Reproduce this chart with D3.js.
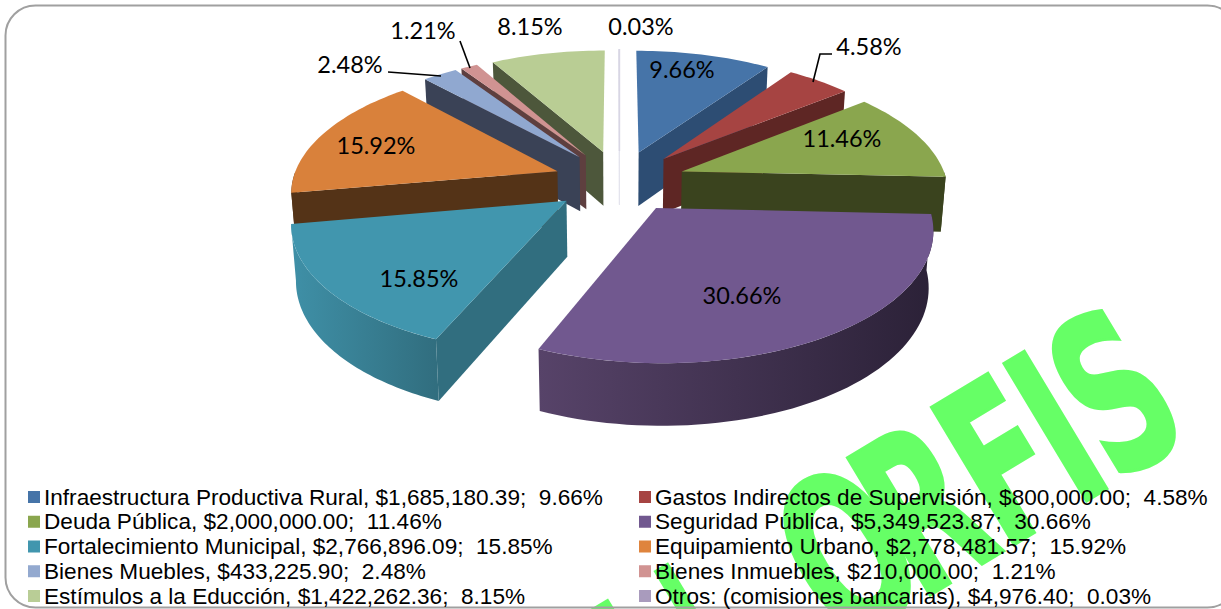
<!DOCTYPE html>
<html><head><meta charset="utf-8">
<script src="https://cdn.jsdelivr.net/npm/d3@7/dist/d3.min.js"></script>
<style>html,body{margin:0;padding:0;background:#fff;overflow:hidden}svg{display:block}text{white-space:pre}</style>
</head><body><svg id="c" width="1221" height="609"></svg>
<script>
const categories = ["Infraestructura Productiva Rural","Gastos Indirectos de Supervisión","Deuda Pública","Seguridad Pública","Fortalecimiento Municipal","Equipamiento Urbano","Bienes Muebles","Bienes Inmuebles","Estímulos a la Educción","Otros: (comisiones bancarias)"];
const amounts = [1685180.39,800000,2000000,5349523.87,2766896.09,2778481.57,433225.90,210000,1422262.36,4976.40];
const amountLabels = ["$1,685,180.39","$800,000.00","$2,000,000.00","$5,349,523.87","$2,766,896.09","$2,778,481.57","$433,225.90","$210,000.00","$1,422,262.36","$4,976.40"];
const percentLabels = ["9.66%","4.58%","11.46%","30.66%","15.85%","15.92%","2.48%","1.21%","8.15%","0.03%"];
const topColors = ["#4674a8","#a64442","#8aa64e","#71588f","#4196ae","#d9813b","#90a8d0","#d09392","#b9cd94","#d8d6e4"];
const wallLight = ["#2d4d73","#5e2624","#3a431e","#574369","#3f90a7","#543317","#3a4256","#5e3f3f","#4d573b","#e4e4ec"];
const wallDark  = ["#2d4d73","#5e2624","#3a431e","#2b2137","#316e7f","#543317","#3a4256","#5e3f3f","#4d573b","#e4e4ec"];
const legendSwatch = ["#4674a8","#a64442","#8aa64e","#71588f","#4196ae","#df843d","#93a9cf","#d19392","#b9cd96","#a99bbd"];
const drawOrder = [8,7,6,5,4,9,0,1,2,3];
const labelAnchors = [[682,70],[869,47],[842,139],[742,296],[419,279],[376,146],[350,65],[423,31],[530,27],[641,27]];
const leaderLines = [[[813,82],[820,54],[832,54]],[[388,72],[441,76]],[[460,41],[470,68]]];
const watermarkLetters = ["O","R","F","I","S"];
const watermarkOffsets = [-268,-176,-78,6.6,52];
const watermarkStems = [[-461,-441],[-388,-371]];

const svg = d3.select("#c");
const cx=619.5, cy=181, rx=265, ry=124, k=0.145, explode=0.25, depth=55, k2=0.1, inset=0.985;
const sx = d3.scaleLinear().domain([-1,1]).range([cx-rx,cx+rx]);
const sy = d3.scaleLinear().domain([-1,1]).range([cy-ry,cy+ry]);
const project = (U,V,low)=>{
  const w=1-k*V;
  let x=sx(U/w), y=sy(V/w);
  if(low){ x=cx+(x-cx)*inset; y+=depth/(1-k2*V); }
  return [x,y];
};
const pie = d3.pie().sort(null).value(d=>d);
const arcs = pie(amounts);
const line = d3.line();
const defs = svg.append("defs");

/* watermark */
const wm = svg.append("g").attr("transform","translate(1070,511) rotate(-31)").attr("fill","#66ff66");
const wmScale=0.6, wmSize=220;
wm.append("g").attr("transform",`scale(${wmScale},1)`).selectAll("text").data(watermarkLetters).join("text")
  .attr("x",(d,i)=>watermarkOffsets[i]/wmScale).attr("font-family","DejaVu Sans").attr("font-weight","700").attr("font-size",wmSize)
  .attr("stroke","#66ff66").attr("stroke-width",3).text(d=>d);
wm.selectAll("rect").data(watermarkStems).join("rect").attr("x",d=>d[0]).attr("width",d=>d[1]-d[0]).attr("y",-163).attr("height",163);

/* frame */
svg.append("rect").attr("x",5.5).attr("y",5.5).attr("width",1232).attr("height",602).attr("rx",30)
  .attr("fill","none").attr("stroke","#a0a0a0").attr("stroke-width",2);

const edge=(a,mu,mv,t,low)=>project(mu+Math.sin(a)*t, mv-Math.cos(a)*t, low);
drawOrder.forEach(i=>{
  const d=arcs[i], mid=(d.startAngle+d.endAngle)/2;
  const mu=explode*Math.sin(mid), mv=-explode*Math.cos(mid);
  const g=svg.append("g");
  const sliver=i===9;
  [[d.startAngle,-1],[d.endAngle,1]].forEach(([a,s])=>{
    if(s*Math.sin(a)>0){
      const pts=[project(mu,mv),edge(a,mu,mv,1),edge(a,mu,mv,1,true),project(mu,mv,true)];
      g.append("path").attr("d",line(pts)+"Z").attr("fill",wallDark[i]).attr("stroke",sliver?wallDark[i]:"none").attr("stroke-width",sliver?.7:0);
    }
  });
  const a0=Math.max(d.startAngle,Math.PI/2), a1=Math.min(d.endAngle,Math.PI*1.5);
  if(a1>a0){
    const as=d3.range(0,61).map(j=>a0+(a1-a0)*j/60);
    const up=as.map(a=>edge(a,mu,mv,1)), lo=as.map(a=>edge(a,mu,mv,1,true));
    const xs=up.map(p=>p[0]);
    const id="wg"+i;
    const gr=defs.append("linearGradient").attr("id",id).attr("gradientUnits","userSpaceOnUse")
      .attr("x1",d3.min(xs)).attr("x2",d3.max(xs)).attr("y1",0).attr("y2",0);
    gr.append("stop").attr("offset",0).attr("stop-color",wallLight[i]);
    gr.append("stop").attr("offset",1).attr("stop-color",wallDark[i]);
    g.append("path").attr("d",line(up.concat(lo.reverse()))+"Z").attr("fill",`url(#${id})`);
  }
  const n=Math.max(2,Math.ceil((d.endAngle-d.startAngle)*40));
  const top=[project(mu,mv)].concat(d3.range(0,n+1).map(j=>edge(d.startAngle+(d.endAngle-d.startAngle)*j/n,mu,mv,1)));
  g.append("path").attr("d",line(top)+"Z").attr("fill",topColors[i]).attr("stroke",sliver?topColors[i]:"none").attr("stroke-width",sliver?1.5:0);
});

/* leader lines */
svg.selectAll("path.leader").data(leaderLines).join("path").attr("class","leader")
  .attr("d",line).attr("fill","none").attr("stroke","#000").attr("stroke-width",1.6);

/* data labels */
svg.selectAll("text.pct").data(percentLabels).join("text").attr("class","pct")
  .attr("x",(d,i)=>labelAnchors[i][0]).attr("y",(d,i)=>labelAnchors[i][1]+8)
  .attr("text-anchor","middle").attr("font-family","Lato").attr("font-size",23.5).attr("fill","#000").text(d=>d);

/* legend */
const rowY=d3.scaleLinear().domain([0,4]).range([497,596]);
const colX=[28,639];
const lg=svg.append("g").selectAll("g").data(categories).join("g")
  .attr("transform",(d,i)=>`translate(${colX[i%2]},${rowY(Math.floor(i/2))})`);
lg.append("rect").attr("x",0).attr("y",-6).attr("width",12).attr("height",12).attr("fill",(d,i)=>legendSwatch[i]);
lg.append("text").attr("x",16).attr("y",7.5).attr("font-family","Liberation Sans").attr("font-size",22.6).attr("fill","#000")
  .text((d,i)=>`${d}, ${amountLabels[i]};  ${percentLabels[i]}`);
</script></body></html>
